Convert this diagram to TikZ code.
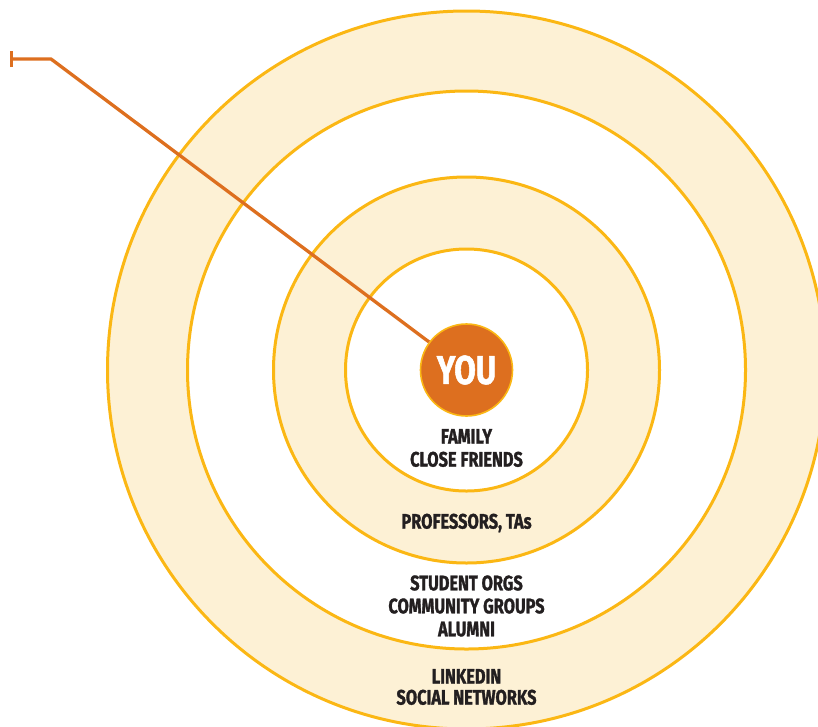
\documentclass[tikz,border=0pt]{standalone}
\usepackage{fontspec}
\setmainfont{Fira Sans}[FakeStretch=0.78, BoldFeatures={FakeBold=1.3}]
\usetikzlibrary{arrows.meta,positioning}
\definecolor{youorange}{HTML}{DD6F1F}
\definecolor{ringline}{HTML}{FBB714}
\definecolor{ringfill}{HTML}{FDF1D5}
\definecolor{labeltext}{HTML}{231F20}

\begin{document}
\begin{tikzpicture}[
  x=1pt, y=-1pt,
  every node/.style={align=center, inner sep=0},
  ring/.style={circle, draw=ringline, line width=3pt},
  band/.style={ring, fill=ringfill},
  gap/.style={ring, fill=white},
  circlelabel/.style={font=\fontsize{21}{23}\selectfont\bfseries, text=labeltext},
  pointer/.style={draw=youorange, line width=3.3pt}
]
\useasboundingbox (0,0) rectangle (818,726);
% rings, outside in
\node[band, minimum size=718pt] (social) at (466.5,370) {};
\node[gap, minimum size=558pt] (groups) at (social.center) {};
\node[band, minimum size=386pt] (campus) at (social.center) {};
\node[gap, minimum size=242pt] (inner) at (social.center) {};
\node[circle, fill=youorange, draw=ringline, line width=1.6pt, minimum size=92pt,
  font=\fontsize{40}{40}\selectfont\bfseries, text=white] (you) at (social.center) {YOU};
% ring labels
\node[circlelabel] (family) at (466.5,448) {FAMILY\\CLOSE FRIENDS};
\node[circlelabel] (profs) at (466.5,523) {PROFESSORS, TAs};
\node[circlelabel] (orgs) at (466.5,606) {STUDENT ORGS\\COMMUNITY GROUPS\\ALUMNI};
\node[circlelabel, font=\fontsize{21}{21}\selectfont\bfseries] (online) at (466.5,687) {LINKEDIN\\SOCIAL NETWORKS};
% pointer
\coordinate (tick) at (10,59);
\coordinate (bend) at (51,59);
\draw[pointer, {Bar[width=16pt,line width=3.3pt]}-] (tick) -- (bend) -- (you);
\end{tikzpicture}
\end{document}
